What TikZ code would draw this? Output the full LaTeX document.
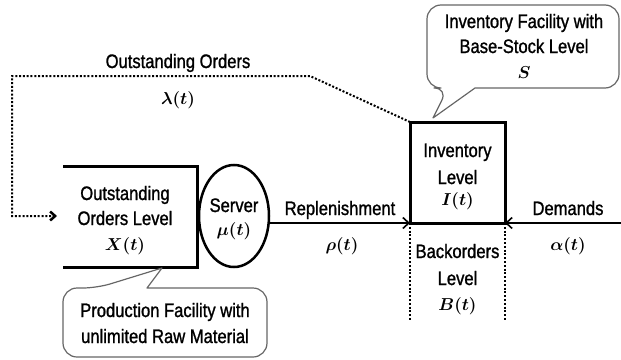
\documentclass[tikz,border=0pt]{standalone}
\usepackage{fontspec}
\setmainfont{Liberation Sans}[FakeStretch=0.85,FakeBold=1.2]
\usepackage{amsmath}
\usetikzlibrary{shapes.geometric,arrows.meta}
\newcommand\mathlab[1]{{\fontsize{17.5}{20}\selectfont\boldmath$#1$}}
\begin{document}
\begin{tikzpicture}[x=1pt,y=-1pt,
  txt/.style={font=\fontsize{19.5}{24}\selectfont, inner sep=0pt, anchor=base},
  heavy/.style={line width=3pt, line join=miter},
  flow/.style={line width=2pt, -{Straight Barb[length=6pt,width=11pt,line width=1.6pt]}},
  dotl/.style={line width=2pt, dash pattern=on 2pt off 1.8pt},
  bub/.style={draw=black!60, line width=1.2pt, line join=round}]
\useasboundingbox (0,0) rectangle (621,359);

% inventory box
\node[draw, heavy, minimum width=95pt, minimum height=101pt, inner sep=0pt, outer sep=0pt] (inv) at (457.5,172.5) {};
\node[txt] (inv1) at (457.5,157) {Inventory};
\node[txt] (inv2) at (457.5,184) {Level};
\node[txt] (inv3) at (457.5,205) {\mathlab{I(t)}};

% outstanding orders box (open on the left)
\coordinate (lbtl) at (63,166);
\coordinate (lbtr) at (197,166);
\coordinate (lbbr) at (197,267);
\coordinate (lbbl) at (63,267);
\draw[heavy] (lbtl) -- (lbtr) -- (lbbr) -- (lbbl);
\node[txt] (ool1) at (125,200) {Outstanding};
\node[txt] (ool2) at (125,225) {Orders Level};
\node[txt] (ool3) at (125,250) {\mathlab{X(t)}};

% server
\node[draw, ellipse, line width=2.5pt, minimum width=70pt, minimum height=102pt, inner sep=0pt, outer sep=0pt] (srv) at (234,216) {};
\node[txt] (srv1) at (234,212) {Server};
\node[txt] (srv2) at (234,235) {\mathlab{\mu(t)}};

% replenishment
\draw[flow] (srv.east |- inv.south west) -- (inv.south west);
\node[txt] (rep) at (340,215) {Replenishment};
\node[txt] (rho) at (342,250) {\mathlab{\rho(t)}};

% demands
\coordinate (demsrc) at (621,223);
\draw[flow] (demsrc) -- (inv.south east);
\node[txt] (dem) at (568,215) {Demands};
\node[txt] (alp) at (568,250) {\mathlab{\alpha(t)}};

% backorders
\coordinate (botl) at (410,320);
\draw[dotl] (inv.south west) -- (inv.south west |- botl);
\draw[dotl] (inv.south east) -- (inv.south east |- botl);
\node[txt] (bo1) at (457.5,258) {Backorders};
\node[txt] (bo2) at (457.5,285) {Level};
\node[txt] (bo3) at (457.5,310) {\mathlab{B(t)}};

% outstanding orders feedback
\coordinate (fb1) at (310,76);
\coordinate (fb2) at (12,76);
\coordinate (fb3) at (12,216);
\coordinate (fb4) at (57,216);
\draw[dotl, -{Straight Barb[length=5pt,width=9pt,line width=2.5pt]}] (inv.north west) -- (fb1) -- (fb2) -- (fb3) -- (fb4);
\node[txt] (oo) at (178,68) {Outstanding Orders};
\node[txt] (lam) at (178,104) {\mathlab{\lambda(t)}};

% top callout
\coordinate (tptip) at (433,118);
\draw[bub, rounded corners=14pt] (475,88) -- (619,88) -- (619,5) -- (427,5) -- (427,88) -- (448,88) [sharp corners] -- (tptip) -- cycle;
\node[txt] (tc1) at (524,28) {Inventory Facility with};
\node[txt] (tc2) at (524,53) {Base-Stock Level};
\node[txt] (tc3) at (524,78) {\mathlab{S}};

% bottom callout
\coordinate (bttip) at (162,268);
\draw[bub, rounded corners=14pt] (147,288) -- (267,288) -- (267,357) -- (63,357) -- (63,288) -- (97,288) [sharp corners] -- (bttip) -- cycle;
\node[txt] (bc1) at (165,317) {Production Facility with};
\node[txt] (bc2) at (165,343) {unlimited Raw Material};
\end{tikzpicture}
\end{document}
